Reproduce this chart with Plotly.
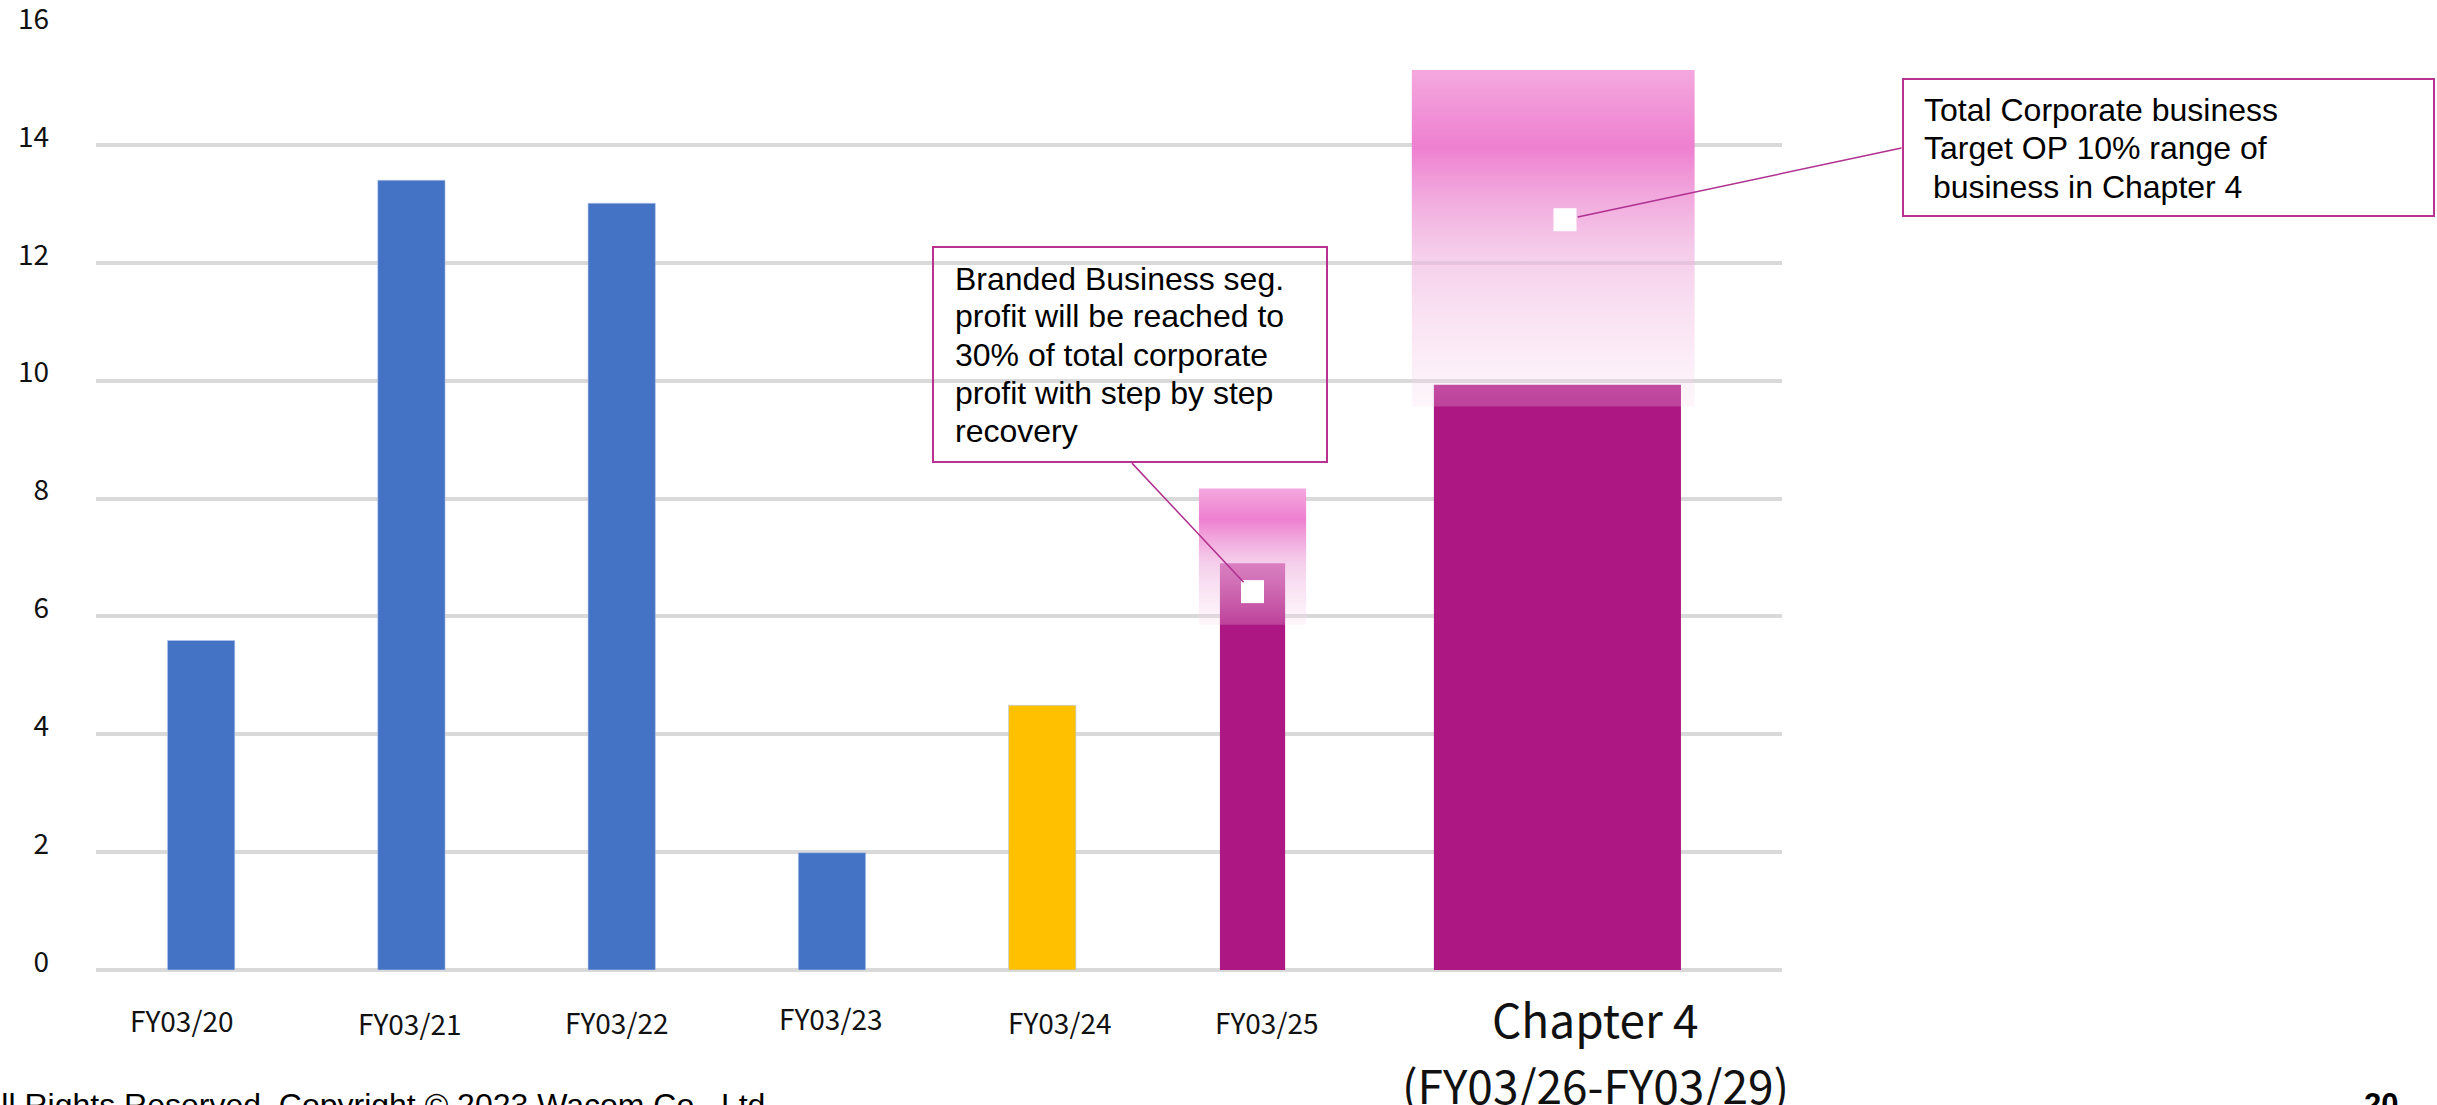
import plotly.graph_objects as go

# ---------------- data ----------------
categories = ["FY03/20", "FY03/21", "FY03/22", "FY03/23", "FY03/24"]
actual_values = [5.59, 13.40, 13.01, 1.99, 4.49]
actual_colors = ["#4472C4", "#4472C4", "#4472C4", "#4472C4", "#FFC000"]

plan_labels = ["FY03/25", "Chapter 4"]
plan_values = [6.90, 9.93]            # solid magenta bars
range_low = [5.86, 9.56]              # target range band (gradient)
range_high = [8.17, 15.27]
callout_values = [6.42, 12.73]        # white callout anchor squares

callout_texts = [
    ["Branded Business seg.", "profit will be reached to", "30% of total corporate",
     "profit with step by step", "recovery"],
    ["Total Corporate business", "Target OP 10% range of", "\u00a0business in Chapter 4"],
]
y_ticks = [0, 2, 4, 6, 8, 10, 12, 14, 16]

# ---------------- layout helpers ----------------
W, H = 2437, 1105
L, R, T, B = 96, 1782, 27, 970          # plot area in pixels
XR = [-0.5, 7.518]
YR = [0, 16]

slot_actual = [0, 1, 2, 3, 4]
slot_plan = [5, 6.45]
w_actual = 0.32
w_plan = [0.31, 1.175]
w_range = [0.51, 1.345]
range_center_shift = [0.0, -0.02]
callout_dx = [0.0, 0.036]


def px_x(px):
    return (px - L) / (R - L)


def px_y(py):
    return (B - py) / (B - T)


fig = go.Figure()

# actual bars
fig.add_trace(go.Bar(
    x=slot_actual, y=actual_values, width=w_actual,
    marker=dict(color=actual_colors, line=dict(width=1, color="rgba(180,200,235,0.6)")),
    hoverinfo="skip", showlegend=False))

# plan bars (solid magenta)
fig.add_trace(go.Bar(
    x=slot_plan, y=plan_values, width=w_plan,
    marker=dict(color="#AD1783", line=dict(width=0)),
    hoverinfo="skip", showlegend=False))

# gradient target bands
grad_scale = [
    [0.0, "rgba(248,215,238,0.22)"],
    [0.45, "rgba(240,181,224,0.66)"],
    [0.77, "rgba(238,128,208,1)"],
    [1.0, "rgba(244,168,222,1)"],
]
for xc, w, lo, hi, sh in zip(slot_plan, w_range, range_low, range_high, range_center_shift):
    c = xc + sh
    fig.add_trace(go.Scatter(
        x=[c - w / 2, c + w / 2, c + w / 2, c - w / 2, c - w / 2],
        y=[lo, lo, hi, hi, lo],
        mode="lines", line=dict(width=0), fill="toself",
        fillgradient=dict(type="vertical", colorscale=grad_scale, start=lo, stop=hi),
        hoverinfo="skip", showlegend=False))

# callout anchor squares
mx = [s + d for s, d in zip(slot_plan, callout_dx)]
fig.add_trace(go.Scatter(
    x=mx, y=callout_values, mode="markers",
    marker=dict(symbol="square", size=23, color="white", line=dict(width=0)),
    hoverinfo="skip", showlegend=False))

annotations = []
shapes = []

# x labels
label_dx = [-20, -2, -5, -1, 17, 14]
label_py = [1020, 1023, 1022, 1018, 1022, 1022]
for s, lab, dx, py in zip(slot_actual + [slot_plan[0]], categories + [plan_labels[0]], label_dx, label_py):
    annotations.append(dict(
        x=s, xref="x", y=0, yref="paper", yshift=-(py - B), xshift=dx,
        text=lab, showarrow=False, xanchor="center", yanchor="middle",
        font=dict(family="Noto Sans CJK JP", size=28, color="#111111")))
# chapter 4 two-line label
for txt, py in zip(["Chapter 4", "(FY03/26-FY03/29)"], [1018, 1084]):
    annotations.append(dict(
        x=slot_plan[1], xref="x", y=0, yref="paper", yshift=-(py - B), xshift=38,
        text=txt, showarrow=False, xanchor="center", yanchor="middle",
        font=dict(family="Noto Sans CJK JP", size=46, color="#111111")))

# callout boxes
boxes = [(933, 247, 1327, 462), (1903, 79, 2434, 216)]
for (x0, y0, x1, y1) in boxes:
    shapes.append(dict(type="rect", xref="paper", yref="paper",
                       x0=px_x(x0), x1=px_x(x1), y0=px_y(y1), y1=px_y(y0),
                       line=dict(color="#B8338F", width=2), fillcolor="rgba(0,0,0,0)",
                       layer="above"))

# callout texts
text_left = [953, 1922]
text_py = [[279, 316, 355, 393, 431], [110, 148, 187]]
for lines, tl, pys in zip(callout_texts, text_left, text_py):
    for ln, py in zip(lines, pys):
        annotations.append(dict(
            x=px_x(tl), xref="paper", y=px_y(py), yref="paper",
            text=ln, showarrow=False, xanchor="left", yanchor="middle",
            font=dict(family="Liberation Sans, Arial", size=32, color="#000000")))

# leader lines
leader_tail = [(-122, -130), (338, -72)]
for x, y, (ax, ay) in zip(mx, callout_values, leader_tail):
    annotations.append(dict(
        x=x, y=y, xref="x", yref="y", ax=ax, ay=ay, axref="pixel", ayref="pixel",
        text="", showarrow=True, arrowhead=0, arrowwidth=1.5, arrowcolor="#B0308F",
        standoff=13))

# footer
annotations.append(dict(
    x=px_x(-22), xref="paper", y=0, yref="paper", yshift=-(1085 - B),
    text="All Rights Reserved. Copyright \u00a9 2023 Wacom Co., Ltd.", showarrow=False,
    xanchor="left", yanchor="top",
    font=dict(family="Liberation Sans, Arial", size=32, color="#000000")))
annotations.append(dict(
    x=px_x(2362), xref="paper", y=0, yref="paper", yshift=-(1085 - B),
    text="<b>20</b>", showarrow=False, xanchor="left", yanchor="top",
    font=dict(family="Liberation Sans, Arial", size=31, color="#000000")))

fig.update_layout(
    width=W, height=H,
    margin=dict(l=L, r=W - R, t=T, b=H - B, pad=0, autoexpand=False),
    paper_bgcolor="white", plot_bgcolor="white",
    barmode="overlay",
    showlegend=False,
    xaxis=dict(range=XR, showgrid=False, zeroline=False, showticklabels=False,
               ticks="", showline=False, fixedrange=True, automargin=False),
    yaxis=dict(range=YR, tickvals=y_ticks, ticktext=[str(v) for v in y_ticks],
               showgrid=True, gridcolor="#D9D9D9", gridwidth=4,
               zeroline=True, zerolinecolor="#D9D9D9", zerolinewidth=4,
               showline=False, ticks="", ticklabelstandoff=46, ticklabelshift=-8,
               ticklabeloverflow="allow", automargin=False,
               tickfont=dict(family="Noto Sans CJK JP", size=28, color="#111111"),
               fixedrange=True),
    annotations=annotations,
    shapes=shapes,
)

fig.write_html("out.html")
